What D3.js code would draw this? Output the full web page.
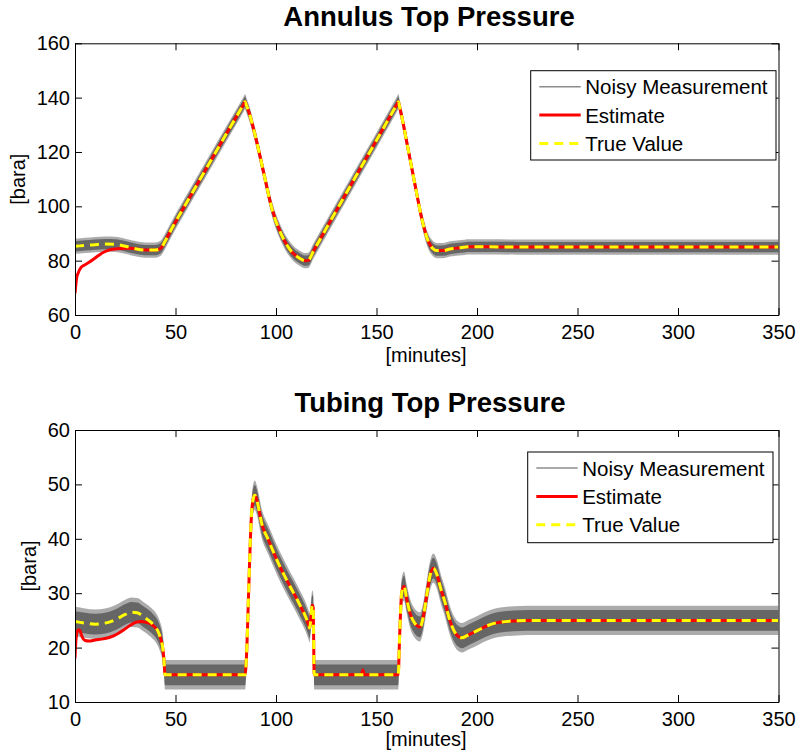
<!DOCTYPE html>
<html><head><meta charset="utf-8">
<script src="https://cdn.jsdelivr.net/npm/d3@7"></script>
<style>
body{margin:0;background:#fff}
svg{display:block}
text{font-family:"Liberation Sans",Arial,Helvetica,sans-serif;fill:#000}
</style>
</head><body>
<svg id="c" width="798" height="753"></svg>
<script>
// ---------------- DATA ----------------
const xTicks = [0, 50, 100, 150, 200, 250, 300, 350];
const yTicksTop = [60, 80, 100, 120, 140, 160];
const yTicksBot = [10, 20, 30, 40, 50, 60];
const legendLabels = ["Noisy Measurement", "Estimate", "True Value"];

// Annulus Top Pressure (bara) vs minutes
const timeTop = [0, 5, 10, 15, 20, 25, 30, 35, 40, 42.5, 45, 47.5, 55, 65, 75, 80, 84, 84.6, 85.3, 86.5, 89.6, 94.5, 97.9, 102.8, 107.8, 111.5, 114.4, 116, 118.6, 130, 140, 150, 156, 160.2, 160.9, 161.5, 162.3, 165, 169.2, 172.5, 175.8, 178, 180, 183, 186.6, 191, 196.5, 205, 220, 350];
const trueTop = [85.3, 85.6, 85.9, 86.1, 86.0, 85.3, 84.4, 83.9, 83.9, 84.5, 87.4, 90.9, 100.7, 113.5, 126.3, 132.6, 137.7, 138.5, 137.1, 134.7, 126.2, 110.3, 99.3, 89.4, 83.3, 81.0, 80.0, 80.1, 83.5, 98.4, 111.4, 124.3, 132.1, 137.6, 138.5, 136.5, 134.0, 123.8, 107.8, 95.6, 87.0, 84.5, 83.7, 83.7, 84.3, 84.7, 85.1, 85.1, 85.0, 85.0];
const estTimeTop = [0, 0.4, 0.8, 1.6, 3, 5, 7, 9, 11.5, 14, 17, 20, 24, 27.5, 30, 35, 40, 42.5, 45, 47.5, 55, 65, 75, 80, 84, 84.6, 85.3, 86.5, 89.6, 94.5, 97.9, 102.8, 107.8, 111.5, 114.4, 116, 118.6, 130, 140, 150, 156, 160.2, 160.9, 161.5, 162.3, 165, 169.2, 172.5, 175.8, 178, 180, 183, 186.6, 191, 196.5, 205, 220, 350];
const estTop = [68.0, 71.0, 73.5, 75.5, 77.5, 78.5, 79.4, 80.4, 81.8, 83.0, 83.9, 84.3, 84.5, 84.6, 84.4, 83.9, 83.9, 84.5, 87.4, 90.9, 100.7, 113.5, 126.3, 132.6, 137.7, 138.5, 137.1, 134.7, 126.2, 110.3, 99.3, 89.4, 83.3, 81.0, 80.0, 80.1, 83.5, 98.4, 111.4, 124.3, 132.1, 137.6, 138.5, 136.5, 134.0, 123.8, 107.8, 95.6, 87.0, 84.5, 83.7, 83.7, 84.3, 84.7, 85.1, 85.1, 85.0, 85.0];
const noiseTop = [1.9, 2.8];   // half-spread of the noisy measurement: dense core, extremes

// Tubing Top Pressure (bara) vs minutes
const timeBot = [0, 5, 10, 15, 20, 25, 28, 31, 34, 37, 39, 41, 42.5, 43.5, 44.2, 44.8, 84.6, 85.5, 86.2, 87.9, 88.7, 89.5, 90.4, 92.9, 96.2, 101.2, 106.2, 111.1, 116.1, 116.7, 118.1, 118.5, 119, 160.8, 161.5, 162.5, 163.7, 165, 166.7, 169, 171.6, 173.2, 174.9, 176.5, 178.3, 180, 182, 184.1, 186.5, 189, 192.4, 196, 200.6, 205, 209, 218, 225.5, 350];
const trueBot = [24.8, 24.5, 24.3, 24.5, 25.1, 26.1, 26.5, 26.4, 25.7, 24.9, 24.2, 23.2, 21.8, 20.3, 18.0, 15.0, 15.0, 20.0, 28.1, 45.0, 47.4, 48.0, 47.2, 42.8, 39.8, 35.5, 31.8, 28.4, 24.3, 23.6, 27.8, 27.4, 15.0, 15.0, 22.0, 30.0, 31.3, 29.0, 26.3, 24.5, 23.8, 25.5, 29.4, 33.0, 34.6, 33.5, 30.8, 28.3, 25.0, 22.8, 21.8, 22.4, 23.2, 24.0, 24.5, 24.9, 25.0, 25.0];
const estTimeBot = [0, 0.5, 1, 1.8, 2.5, 3.5, 5, 7, 10, 14, 17.4, 21, 24, 27.5, 30.7, 33, 35.7, 37, 39, 41, 42.5, 43.5, 44.2, 44.8, 84.6, 85.5, 86.2, 87.9, 88.7, 89.5, 90.4, 92.9, 96.2, 101.2, 106.2, 111.1, 116.1, 116.7, 118.1, 118.5, 119, 142.5, 143.2, 144, 160.8, 161.5, 162.5, 163.7, 165, 166.7, 169, 171.6, 173.2, 174.9, 176.5, 178.3, 180, 182, 184.1, 186.5, 189, 192.4, 196, 200.6, 205, 209, 218, 225.5, 350];
const estBot = [18.0, 21.5, 22.8, 23.3, 23.1, 22.0, 21.3, 21.2, 21.4, 21.6, 21.9, 22.5, 23.2, 24.1, 24.7, 24.8, 24.6, 24.5, 24.0, 23.2, 21.8, 20.3, 18.0, 15.0, 15.0, 20.0, 28.1, 45.0, 47.4, 48.0, 47.2, 42.8, 39.8, 35.5, 31.8, 28.4, 24.3, 23.6, 27.8, 27.4, 15.0, 15.0, 15.9, 15.0, 15.0, 22.0, 30.0, 31.3, 29.0, 26.3, 24.5, 23.8, 25.5, 29.4, 33.0, 34.6, 33.5, 30.8, 28.3, 25.0, 22.8, 21.8, 22.4, 23.2, 24.0, 24.5, 24.9, 25.0, 25.0];
const noiseBot = [1.9, 2.7];

// ---------------- DRAWING ----------------
const svg = d3.select("#c");
const FONT = '"Liberation Sans",Arial,Helvetica,sans-serif';

function panel(o) {
  const x = d3.scaleLinear().domain([0, 350]).range([o.left, o.right]);
  const y = d3.scaleLinear().domain(o.yDomain).range([o.bottom, o.top]);
  const g = svg.append("g");

  const clipId = "clip" + o.id;
  svg.append("clipPath").attr("id", clipId).append("rect")
    .attr("x", o.left).attr("y", o.top).attr("width", o.right - o.left).attr("height", o.bottom - o.top);

  const tr = o.time.map((t, i) => ({ t, v: o.trueV[i] }));
  const es = o.estTime.map((t, i) => ({ t, v: o.estV[i] }));
  const curve = d3.curveMonotoneX;
  const band = w => d3.area().x(d => x(d.t)).y0(d => y(d.v - w)).y1(d => y(d.v + w)).curve(curve);

  const dg = g.append("g").attr("clip-path", `url(#${clipId})`);
  dg.append("path").datum(tr).attr("d", band(o.noise[1])).attr("fill", "#666").attr("opacity", 0.55);
  dg.append("path").datum(tr).attr("d", band(o.noise[0])).attr("fill", "#666");
  const line = d3.line().x(d => x(d.t)).y(d => y(d.v)).curve(curve);
  dg.append("path").datum(es).attr("d", line).attr("fill", "none").attr("stroke", "#ff0000").attr("stroke-width", 3);
  dg.append("path").datum(tr).attr("d", line).attr("fill", "none").attr("stroke", "#ffff00").attr("stroke-width", 3)
    .attr("stroke-dasharray", "9,6");

  // axes (inward ticks on all sides, box frame)
  const styleAx = sel => sel.attr("font-size", 20).attr("font-family", FONT).call(s => s.selectAll("text").attr("fill", "#000"));
  g.append("g").attr("transform", `translate(0,${o.bottom})`)
    .call(d3.axisBottom(x).tickValues(xTicks).tickSizeInner(-7).tickSizeOuter(0).tickPadding(10)).call(styleAx);
  g.append("g").attr("transform", `translate(0,${o.top})`)
    .call(d3.axisTop(x).tickValues(xTicks).tickSizeInner(-7).tickSizeOuter(0).tickFormat("")).call(styleAx);
  g.append("g").attr("transform", `translate(${o.left},0)`)
    .call(d3.axisLeft(y).tickValues(o.yTicks).tickSizeInner(-7).tickSizeOuter(0).tickPadding(5)).call(styleAx);
  g.append("g").attr("transform", `translate(${o.right},0)`)
    .call(d3.axisRight(y).tickValues(o.yTicks).tickSizeInner(-7).tickSizeOuter(0).tickFormat("")).call(styleAx);

  // title and axis labels
  g.append("text").attr("x", o.titleX).attr("y", o.titleY).attr("text-anchor", "middle")
    .attr("font-size", 27.5).attr("font-weight", "bold").text(o.title);
  g.append("text").attr("x", 426).attr("y", o.xlabY).attr("text-anchor", "middle")
    .attr("font-size", 20).text("[minutes]");
  g.append("text").attr("transform", `translate(${o.ylabX},${(o.top + o.bottom) / 2}) rotate(-90)`)
    .attr("dy", "0.26em").attr("text-anchor", "middle").attr("font-size", 20).text("[bara]");

  // legend
  const L = o.legend;
  const lg = g.append("g");
  lg.append("rect").attr("x", L.x).attr("y", L.y).attr("width", L.w).attr("height", L.h)
    .attr("fill", "#fff").attr("stroke", "#000").attr("stroke-width", 1);
  const styles = [
    { stroke: "#8c8c8c", w: 1.5, dash: null },
    { stroke: "#ff0000", w: 3, dash: null },
    { stroke: "#ffff00", w: 3, dash: "9,6" }
  ];
  legendLabels.forEach((lab, i) => {
    const ry = L.y + 16 + i * 28.4;
    lg.append("line").attr("x1", L.x + 8.6).attr("x2", L.x + 50).attr("y1", ry).attr("y2", ry)
      .attr("stroke", styles[i].stroke).attr("stroke-width", styles[i].w)
      .attr("stroke-dasharray", styles[i].dash);
    lg.append("text").attr("x", L.x + 54.5).attr("y", ry + 7.6).attr("font-size", 20.5).text(lab);
  });
}

panel({
  id: "top", left: 75, right: 778.5, top: 43.3, bottom: 315,
  yDomain: [60, 160], yTicks: yTicksTop,
  time: timeTop, trueV: trueTop, estTime: estTimeTop, estV: estTop, noise: noiseTop,
  title: "Annulus Top Pressure", titleX: 429, titleY: 26, xlabY: 361.5, ylabX: 19.5,
  legend: { x: 530.7, y: 70.7, w: 245.3, h: 89.3 }
});
panel({
  id: "bot", left: 75, right: 778.5, top: 430, bottom: 702,
  yDomain: [10, 60], yTicks: yTicksBot,
  time: timeBot, trueV: trueBot, estTime: estTimeBot, estV: estBot, noise: noiseBot,
  title: "Tubing Top Pressure", titleX: 430, titleY: 411.5, xlabY: 746, ylabX: 30.8,
  legend: { x: 527.7, y: 452, w: 245.3, h: 90.7 }
});
</script>
</body></html>
